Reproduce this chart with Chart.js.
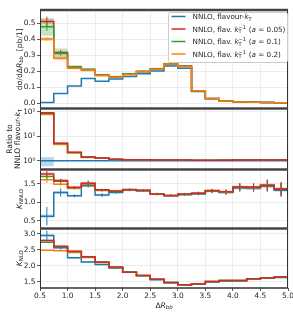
<!DOCTYPE html>
<html>
<head>
<meta charset="utf-8">
<script src="https://cdn.jsdelivr.net/npm/chart.js@4.4.1/dist/chart.umd.min.js"></script>
<style>
  html, body { margin: 0; padding: 0; background: #fff; }
  canvas { display: block; }
</style>
</head>
<body>
<canvas id="c" width="293" height="317"></canvas>
<script>
// bin edges in Delta R_bb
const edges = [0.5, 0.75, 1.0, 1.25, 1.5, 1.75, 2.0, 2.25, 2.5, 2.75, 3.0, 3.25, 3.5, 3.75, 4.0, 4.25, 4.5, 4.75, 5.0];

// tick values
const xTicks = [0.5, 1.0, 1.5, 2.0, 2.5, 3.0, 3.5, 4.0, 4.5, 5.0];
const xsTicks = [0.0, 0.1, 0.2, 0.3, 0.4, 0.5];
const ratioTicks = [1, 10, 100];
const knnloTicks = [0.5, 1.0, 1.5];
const knloTicks = [1.5, 2.0, 2.5, 3.0];

// panel 1: d sigma / d Delta R_bb [pb/1]
const xsKt   = [0.005, 0.062, 0.108, 0.155, 0.137, 0.152, 0.167, 0.185, 0.202, 0.233, 0.219, 0.074, 0.029, 0.013, 0.0085, 0.0065, 0.0047, 0.0038];
const xsA005 = [0.510, 0.317, 0.225, 0.210, 0.176, 0.165, 0.183, 0.199, 0.215, 0.247, 0.232, 0.079, 0.031, 0.014, 0.009, 0.007, 0.005, 0.004];
const xsA01  = [0.476, 0.310, 0.226, 0.210, 0.175, 0.164, 0.182, 0.198, 0.214, 0.245, 0.231, 0.078, 0.031, 0.014, 0.009, 0.007, 0.005, 0.004];
const xsA02  = [0.400, 0.280, 0.218, 0.207, 0.174, 0.162, 0.180, 0.197, 0.213, 0.245, 0.230, 0.078, 0.031, 0.014, 0.009, 0.007, 0.005, 0.004];
// scale-band half widths and error bars
const xsBandA01 = [0.055, 0.032, 0.012, 0.011, 0.009, 0.008, 0.008, 0.008, 0.008, 0.009, 0.008, 0.003, 0.0015, 0.001, 0.001, 0.001, 0.001, 0.001];
const xsBandA02 = [0.012, 0.012, 0.007, 0.006, 0.005, 0.005, 0.005, 0.005, 0.005, 0.006, 0.006, 0.003, 0.0015, 0.001, 0.001, 0.001, 0.001, 0.001];
const xsBandA005 = [0.015, 0.008, 0.005, 0.004, 0.004, 0.004, 0.004, 0.004, 0.004, 0.004, 0.004, 0.002, 0.001, 0.001, 0.001, 0.001, 0.001, 0.001];
const xsErrA005 = [0.030, 0.015, 0.005, 0.004, 0.003, 0.003, 0.003, 0.003, 0.003, 0.003, 0.003, 0.002, 0.001, 0.001, 0.001, 0.001, 0.001, 0.001];
const xsErrA01  = [0.025, 0.012, 0.005, 0.004, 0.003, 0.003, 0.003, 0.003, 0.003, 0.003, 0.003, 0.002, 0.001, 0.001, 0.001, 0.001, 0.001, 0.001];
const xsErrA02  = [0.010, 0.008, 0.004, 0.003, 0.003, 0.003, 0.003, 0.003, 0.003, 0.003, 0.003, 0.002, 0.001, 0.001, 0.001, 0.001, 0.001, 0.001];

// panel 2: ratio to NNLO flavour-kT
const ratioKt   = [1, 1, 1, 1, 1, 1, 1, 1, 1, 1, 1, 1, 1, 1, 1, 1, 1, 1];
const ratioA005 = [91, 5.1, 2.2, 1.42, 1.30, 1.15, 1.10, 1.08, 1.07, 1.06, 1.06, 1.05, 1.05, 1.05, 1.06, 1.06, 1.07, 1.06];
const ratioA01  = [84, 5.0, 2.15, 1.40, 1.30, 1.14, 1.10, 1.08, 1.07, 1.06, 1.06, 1.05, 1.05, 1.06, 1.09, 1.10, 1.10, 1.07];
const ratioA02  = [76, 4.6, 2.05, 1.36, 1.27, 1.12, 1.08, 1.07, 1.06, 1.05, 1.05, 1.05, 1.05, 1.05, 1.06, 1.06, 1.07, 1.06];
const ratioBandKt   = [0.40, 0.05, 0.03, 0.02, 0.02, 0.02, 0.02, 0.02, 0.02, 0.02, 0.02, 0.02, 0.02, 0.02, 0.02, 0.02, 0.02, 0.02];
const ratioBandA005 = [0.08, 0.08, 0.06, 0.04, 0.03, 0.03, 0.02, 0.02, 0.02, 0.02, 0.02, 0.02, 0.02, 0.02, 0.02, 0.02, 0.02, 0.02];

// panel 3: K_NNLO
const knnloKt   = [0.63, 1.27, 1.18, 1.45, 1.20, 1.27, 1.33, 1.31, 1.22, 1.18, 1.21, 1.23, 1.30, 1.27, 1.39, 1.38, 1.44, 1.33];
const knnloA005 = [1.77, 1.59, 1.41, 1.52, 1.34, 1.31, 1.35, 1.33, 1.23, 1.19, 1.23, 1.25, 1.32, 1.29, 1.42, 1.41, 1.46, 1.36];
const knnloA01  = [1.70, 1.57, 1.40, 1.51, 1.33, 1.30, 1.34, 1.32, 1.23, 1.19, 1.22, 1.25, 1.31, 1.29, 1.42, 1.42, 1.47, 1.37];
const knnloA02  = [1.61, 1.49, 1.38, 1.49, 1.32, 1.30, 1.34, 1.32, 1.22, 1.18, 1.22, 1.24, 1.31, 1.28, 1.41, 1.40, 1.46, 1.36];
const knnloErr   = [0.08, 0.05, 0.03, 0.07, 0.03, 0.03, 0.03, 0.03, 0.03, 0.03, 0.03, 0.04, 0.05, 0.06, 0.10, 0.10, 0.15, 0.18];
const knnloErrKt = [0.25, 0.11, 0.04, 0.05, 0.05, 0.04, 0.03, 0.03, 0.03, 0.03, 0.03, 0.04, 0.05, 0.06, 0.10, 0.10, 0.15, 0.18];
const knnloBand  = [0.05, 0.04, 0.03, 0.03, 0.03, 0.02, 0.02, 0.02, 0.02, 0.02, 0.02, 0.03, 0.03, 0.03, 0.04, 0.04, 0.05, 0.05];

// panel 4: K_NLO
const knloKt   = [2.94, 2.56, 2.25, 2.12, 2.04, 1.93, 1.81, 1.69, 1.57, 1.47, 1.40, 1.43, 1.50, 1.53, 1.53, 1.59, 1.61, 1.64];
const knloA005 = [2.79, 2.61, 2.45, 2.28, 2.12, 1.96, 1.80, 1.70, 1.58, 1.48, 1.41, 1.44, 1.51, 1.54, 1.54, 1.60, 1.62, 1.65];
const knloA01  = [2.73, 2.59, 2.44, 2.27, 2.11, 1.95, 1.80, 1.70, 1.58, 1.48, 1.41, 1.44, 1.51, 1.54, 1.54, 1.60, 1.62, 1.65];
const knloA02  = [2.48, 2.47, 2.41, 2.26, 2.10, 1.95, 1.80, 1.70, 1.58, 1.48, 1.41, 1.44, 1.51, 1.54, 1.54, 1.60, 1.62, 1.65];
const knloErrKt = [0.15, 0.05, 0.02, 0.02, 0.02, 0.02, 0.02, 0.02, 0.02, 0.02, 0.02, 0.02, 0.02, 0.02, 0.02, 0.02, 0.02, 0.02];
const knloBand  = [0.04, 0.03, 0.03, 0.03, 0.02, 0.02, 0.02, 0.02, 0.02, 0.02, 0.02, 0.02, 0.02, 0.02, 0.02, 0.02, 0.02, 0.02];

const BLUE = '#1f77b4', RED = '#d62728', GREEN = '#2ca02c', ORANGE = '#ff7f0e';
const FONT = '"DejaVu Sans", sans-serif';

function rgba(hex, a) {
  const n = parseInt(hex.slice(1), 16);
  return `rgba(${n >> 16},${(n >> 8) & 255},${n & 255},${a})`;
}

// histogram points: one per low edge, last value repeated at the upper end
function steps(vals) {
  return edges.map((x, i) => ({ x: x, y: vals[Math.min(i, vals.length - 1)] }));
}

function line(axis, vals, color, order, errs) {
  return {
    yAxisID: axis, data: steps(vals), vals: vals, errs: errs,
    borderColor: color, borderWidth: 1.5, stepped: true,
    pointRadius: 0, fill: false, order: order
  };
}

// two datasets, the upper one filled down to the lower one
function band(axis, vals, hw, color, alpha, mult) {
  const lo = vals.map((v, i) => mult ? v * (1 - hw[i]) : v - hw[i]);
  const hi = vals.map((v, i) => mult ? v * (1 + hw[i]) : v + hw[i]);
  return [
    { yAxisID: axis, data: steps(lo), borderWidth: 0, borderColor: 'rgba(0,0,0,0)', stepped: true, pointRadius: 0, fill: false, order: 30 },
    { yAxisID: axis, data: steps(hi), borderWidth: 0, borderColor: 'rgba(0,0,0,0)', stepped: true, pointRadius: 0, fill: '-1', backgroundColor: rgba(color, alpha), order: 30 }
  ];
}

const datasets = [
  ...band('y1', xsA01, xsBandA01, GREEN, 0.28),
  ...band('y1', xsA02, xsBandA02, ORANGE, 0.28),
  ...band('y1', xsA005, xsBandA005, RED, 0.2),
  ...band('y2', ratioKt, ratioBandKt, BLUE, 0.3, true),
  ...band('y2', ratioA005, ratioBandA005, RED, 0.2, true),
  ...band('y3', knnloA005, knnloBand, RED, 0.2),
  ...band('y3', knnloKt, knnloBand, BLUE, 0.2),
  ...band('y4', knloA005, knloBand, RED, 0.2),
  ...band('y4', knloKt, knloBand, BLUE, 0.2),

  line('y1', xsKt, BLUE, 4),
  line('y1', xsA005, RED, 3, xsErrA005),
  line('y1', xsA01, GREEN, 2, xsErrA01),
  line('y1', xsA02, ORANGE, 1, xsErrA02),

  line('y2', ratioKt, BLUE, 4),
  line('y2', ratioA01, GREEN, 2),
  line('y2', ratioA02, ORANGE, 3),
  line('y2', ratioA005, RED, 1),

  line('y3', knnloKt, BLUE, 4, knnloErrKt),
  line('y3', knnloA02, ORANGE, 3, knnloErr),
  line('y3', knnloA01, GREEN, 2, knnloErr),
  line('y3', knnloA005, RED, 1, knnloErr),

  line('y4', knloKt, BLUE, 4, knloErrKt),
  line('y4', knloA02, ORANGE, 3),
  line('y4', knloA01, GREEN, 2),
  line('y4', knloA005, RED, 1)
];

// ---- rich text (sub / superscripts) ----
function fnt(size, italic) { return (italic ? 'italic ' : '') + size + 'px ' + FONT; }
function partWidth(ctx, p, size) {
  const [t, k] = p;
  if (k === 'subsup') {
    ctx.font = fnt(size * 0.7, false);
    return Math.max(ctx.measureText(t[0]).width, ctx.measureText(t[1]).width) + 0.5;
  }
  const sub = k === 'sub' || k === 'subi';
  ctx.font = fnt(sub ? size * 0.7 : size, k === 'i' || k === 'subi');
  return ctx.measureText(t).width;
}
function drawRich(ctx, parts, x, y, size, align, color) {
  let w = 0;
  parts.forEach(p => { w += partWidth(ctx, p, size); });
  let cx = align === 'center' ? x - w / 2 : x;
  ctx.fillStyle = color;
  ctx.textBaseline = 'alphabetic';
  ctx.textAlign = 'left';
  const base = y + size * 0.36;
  parts.forEach(p => {
    const [t, k] = p;
    const pw = partWidth(ctx, p, size);
    if (k === 'subsup') {
      ctx.font = fnt(size * 0.7, false);
      ctx.fillText(t[0], cx, base + size * 0.22);
      ctx.fillText(t[1], cx, base - size * 0.42);
    } else if (k === 'sub' || k === 'subi') {
      ctx.font = fnt(size * 0.7, k === 'subi');
      ctx.fillText(t, cx, base + size * 0.22);
    } else {
      ctx.font = fnt(size, k === 'i');
      ctx.fillText(t, cx, base);
    }
    cx += pw;
  });
}

const legendItems = [
  [BLUE,   [['NNLO, flavour-', 'n'], ['k', 'i'], ['T', 'sub']]],
  [RED,    [['NNLO, flav. ', 'n'], ['k', 'i'], [['T', '\u22121'], 'subsup'], [' (', 'n'], ['a', 'i'], [' = 0.05)', 'n']]],
  [GREEN,  [['NNLO, flav. ', 'n'], ['k', 'i'], [['T', '\u22121'], 'subsup'], [' (', 'n'], ['a', 'i'], [' = 0.1)', 'n']]],
  [ORANGE, [['NNLO, flav. ', 'n'], ['k', 'i'], [['T', '\u22121'], 'subsup'], [' (', 'n'], ['a', 'i'], [' = 0.2)', 'n']]]
];

const decor = {
  id: 'decor',
  afterDatasetsDraw(chart) {
    const ctx = chart.ctx, xs = chart.scales.x;
    // error bars at bin centres
    chart.data.datasets.forEach(ds => {
      if (!ds.errs) return;
      const ys = chart.scales[ds.yAxisID];
      ctx.save();
      ctx.strokeStyle = ds.borderColor;
      ctx.lineWidth = 1;
      ds.vals.forEach((v, i) => {
        const cx = xs.getPixelForValue((edges[i] + edges[i + 1]) / 2);
        ctx.beginPath();
        ctx.moveTo(cx, ys.getPixelForValue(v - ds.errs[i]));
        ctx.lineTo(cx, ys.getPixelForValue(v + ds.errs[i]));
        ctx.stroke();
      });
      ctx.restore();
    });
  },
  afterDraw(chart) {
    const ctx = chart.ctx, a = chart.chartArea, s = chart.scales;
    ctx.save();
    // frame
    ctx.strokeStyle = '#333'; ctx.lineWidth = 1;
    ctx.beginPath();
    ctx.moveTo(a.left + 0.5, a.top); ctx.lineTo(a.left + 0.5, a.bottom);
    ctx.moveTo(a.right - 0.5, a.top); ctx.lineTo(a.right - 0.5, a.bottom);
    ctx.stroke();
    ctx.strokeStyle = '#444'; ctx.lineWidth = 2.5;
    [s.y1.top, s.y1.bottom, s.y2.bottom, s.y3.bottom].forEach(yy => {
      ctx.beginPath(); ctx.moveTo(a.left, yy); ctx.lineTo(a.right, yy); ctx.stroke();
    });
    ctx.lineWidth = 1.5; ctx.strokeStyle = '#333';
    ctx.beginPath(); ctx.moveTo(a.left, a.bottom); ctx.lineTo(a.right, a.bottom); ctx.stroke();

    // axis titles
    const ts = 7.6, tc = '#222';
    const vtitle = (parts, x, yc) => {
      ctx.save(); ctx.translate(x, yc); ctx.rotate(-Math.PI / 2);
      drawRich(ctx, parts, 0, 0, ts, 'center', tc);
      ctx.restore();
    };
    vtitle([['d\u03c3/d\u0394', 'n'], ['R', 'i'], ['bb', 'subi'], ['  [pb/1]', 'n']], 19, (s.y1.top + s.y1.bottom) / 2);
    vtitle([['Ratio to', 'n']], 9, (s.y2.top + s.y2.bottom) / 2);
    vtitle([['NNLO flavour-', 'n'], ['k', 'i'], ['T', 'sub']], 17.5, (s.y2.top + s.y2.bottom) / 2);
    vtitle([['K', 'i'], ['NNLO', 'sub']], 19, (s.y3.top + s.y3.bottom) / 2);
    vtitle([['K', 'i'], ['NLO', 'sub']], 19, (s.y4.top + s.y4.bottom) / 2);
    drawRich(ctx, [['\u0394', 'n'], ['R', 'i'], ['bb', 'subi']], (a.left + a.right) / 2, 305, ts, 'center', tc);

    // legend
    const lx = 168, ly = 12, lw = 119, lh = 50;
    ctx.fillStyle = 'rgba(255,255,255,0.85)';
    ctx.strokeStyle = '#cccccc'; ctx.lineWidth = 1;
    ctx.beginPath();
    ctx.roundRect(lx + 0.5, ly + 0.5, lw, lh, 2);
    ctx.fill(); ctx.stroke();
    legendItems.forEach((it, i) => {
      const yy = 16.5 + i * 12.5;
      ctx.strokeStyle = it[0]; ctx.lineWidth = 1.5;
      ctx.beginPath(); ctx.moveTo(171.5, yy); ctx.lineTo(185.5, yy); ctx.stroke();
      drawRich(ctx, it[1], 192.5, yy, 7.2, 'left', '#222');
    });
    ctx.restore();
  }
};

function yAxis(ticksArr, min, max, weight, type, fmt) {
  return {
    type: type || 'linear', position: 'left', stack: 'panels', stackWeight: weight,
    min: min, max: max,
    afterBuildTicks: sc => { sc.ticks = ticksArr.map(v => ({ value: v })); },
    afterFit: sc => { sc.width = 40; sc.paddingTop = 0; sc.paddingBottom = 0; },
    border: { display: false },
    grid: { color: '#e8e8e8', lineWidth: 0.8, tickColor: '#333', tickLength: 3 },
    ticks: { font: { family: FONT, size: 7.4 }, color: '#262626', padding: 1.5, autoSkip: false, callback: fmt }
  };
}

const sup = { '0': '\u2070', '1': '\u00b9', '2': '\u00b2' };

// stacked panels are placed bottom-up in definition order
new Chart(document.getElementById('c'), {
  type: 'line',
  data: { datasets: datasets },
  options: {
    responsive: false, animation: false, devicePixelRatio: 1,
    layout: { padding: { left: 0, top: 10, right: 5, bottom: 0 } },
    plugins: { legend: { display: false }, tooltip: { enabled: false } },
    scales: {
      x: {
        type: 'linear', min: 0.5, max: 5.0,
        afterBuildTicks: sc => { sc.ticks = xTicks.map(v => ({ value: v })); },
        afterFit: sc => { sc.height = 29; sc.paddingLeft = 0; sc.paddingRight = 0; },
        border: { display: false },
        grid: { color: '#e8e8e8', lineWidth: 0.8, tickColor: '#333', tickLength: 3 },
        ticks: { font: { family: FONT, size: 7.4 }, color: '#262626', padding: 1, maxRotation: 0, autoSkip: false,
                 callback: v => v.toFixed(1) }
      },
      y4: yAxis(knloTicks, 1.31, 3.16, 59.5, 'linear', v => v.toFixed(1)),
      y3: yAxis(knnloTicks, 0.297, 1.89, 59, 'linear', v => v.toFixed(1)),
      y2: yAxis(ratioTicks, 0.437, 135, 61, 'logarithmic', v => '10' + sup[String(Math.round(Math.log10(v)))]),
      y1: yAxis(xsTicks, -0.032, 0.581, 98.5, 'linear', v => v.toFixed(1))
    }
  },
  plugins: [decor]
});
</script>
</body>
</html>
